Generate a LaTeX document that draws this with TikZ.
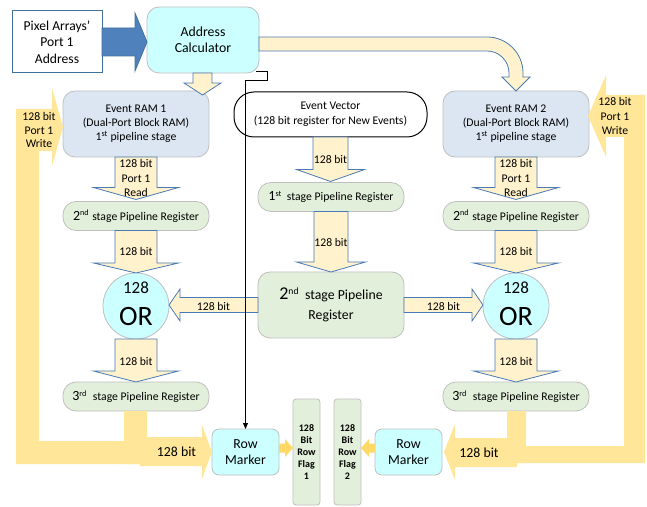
\documentclass[tikz,border=0pt]{standalone}
\usepackage{fontspec}
\setmainfont{Carlito}
\usetikzlibrary{calc,arrows.meta}

\definecolor{bandyellow}{HTML}{FFE699}
\definecolor{flagyellow}{HTML}{FFD966}
\definecolor{paleyellow}{HTML}{FFF2CC}
\definecolor{arrowblue}{HTML}{4A7AB5}
\definecolor{steel}{HTML}{4F81BD}
\definecolor{steeldark}{HTML}{41719C}
\definecolor{ramfill}{HTML}{DCE6F2}
\definecolor{cyanfill}{HTML}{CCFFFF}
\definecolor{greenfill}{HTML}{E2EFDA}
\definecolor{softgray}{HTML}{BFBFBF}

\newcommand\fsz[2]{\fontsize{#1}{#2}\selectfont}

% block arrows: style, start anchor, tip anchor, body half width, head half width, head length
\newcommand\blockdown[6]{%
  \path[#1] let \p1=#2, \p2=#3 in
    (\x1-#4,\y1) -- (\x1-#4,\y2+#6) -- (\x1-#5,\y2+#6) -- (\x1,\y2)
    -- (\x1+#5,\y2+#6) -- (\x1+#4,\y2+#6) -- (\x1+#4,\y1) -- cycle;}
\newcommand\blockleft[6]{%
  \path[#1] let \p1=#2, \p2=#3 in
    (\x1,\y1+#4) -- (\x2+#6,\y1+#4) -- (\x2+#6,\y1+#5) -- (\x2,\y1)
    -- (\x2+#6,\y1-#5) -- (\x2+#6,\y1-#4) -- (\x1,\y1-#4) -- cycle;}
\newcommand\blockright[6]{%
  \path[#1] let \p1=#2, \p2=#3 in
    (\x1,\y1+#4) -- (\x2-#6,\y1+#4) -- (\x2-#6,\y1+#5) -- (\x2,\y1)
    -- (\x2-#6,\y1-#5) -- (\x2-#6,\y1-#4) -- (\x1,\y1-#4) -- cycle;}

\begin{document}
\begin{tikzpicture}[x=1pt,y=1pt,
  every node/.style={inner sep=0pt, outer sep=0pt},
  pane/.style={draw=softgray, line width=0.8pt, align=center},
  ramnode/.style={pane, fill=ramfill, rounded corners=12pt,
    minimum width=146pt, minimum height=66pt, font=\fsz{11.7}{14}},
  pipe/.style={pane, fill=greenfill, rounded corners=13pt,
    minimum width=146pt, minimum height=29pt, font=\fsz{11.7}{14}},
  bigpipe/.style={pane, fill=greenfill, rounded corners=12pt,
    minimum width=146pt, minimum height=66pt, font=\fsz{13.8}{20}},
  calcnode/.style={pane, fill=cyanfill, rounded corners=12pt,
    minimum width=112pt, minimum height=66pt, font=\fsz{13.8}{16}},
  orcircle/.style={circle, draw=softgray, line width=0.8pt, fill=cyanfill, minimum size=66pt},
  marker/.style={pane, fill=cyanfill, rounded corners=7pt,
    minimum width=67pt, minimum height=46pt, font=\fsz{13.8}{15.5}},
  flag/.style={pane, fill=greenfill, rounded corners=3pt,
    minimum width=27pt, minimum height=106pt, font=\bfseries\fsz{10}{12}},
  sourcebox/.style={draw=steeldark, line width=1pt, fill=white, align=center,
    minimum width=90pt, minimum height=62pt, font=\fsz{13.6}{16.5}},
  vectorbox/.style={draw=black, line width=1pt, fill=white, align=center, rounded corners=20pt,
    minimum width=193pt, minimum height=45pt, font=\fsz{11.7}{14.5}},
  pipearrow/.style={fill=paleyellow, draw=arrowblue, line width=0.8pt, line join=miter},
  band/.style={fill=bandyellow},
  flagarrow/.style={fill=flagyellow},
  bluearrow/.style={fill=steel, draw=steeldark, line width=0.8pt, line join=miter},
  lbl/.style={font=\fsz{11.7}{14.5}, align=center},
  biglbl/.style={font=\fsz{13.8}{16}},
  wire/.style={draw=black, line width=0.8pt, -{Triangle[length=6pt,width=5pt]}}]

\useasboundingbox (0,0) rectangle (647,506);

% ---- blocks ----
\node[sourcebox] (pix) at (57,464) {Pixel Arrays’\\Port 1\\Address};
\node[calcnode] (addr) at (203,466) {Address\\Calculator};
\node[ramnode] (ram1) at (136,382) {Event RAM 1\\(Dual-Port Block RAM)\\1\textsuperscript{st} pipeline stage};
\node[vectorbox] (ev) at (330.5,391.5) {Event Vector\\(128 bit register for New Events)};
\node[ramnode] (ram2) at (516,382) {Event RAM 2\\(Dual-Port Block RAM)\\1\textsuperscript{st} pipeline stage};
\node[pipe] (reg1m) at (331,309) {{\fsz{14}{14}1}\textsuperscript{st}\hspace{5pt}stage Pipeline Register};
\node[pipe] (reg2a) at (136,290) {{\fsz{14}{14}2}\textsuperscript{nd}\hspace{3pt}stage Pipeline Register};
\node[pipe] (reg2b) at (516,290) {{\fsz{14}{14}2}\textsuperscript{nd}\hspace{3pt}stage Pipeline Register};
\node[bigpipe] (reg2m) at (331,201) {{\fsz{18}{20}2}\textsuperscript{nd}\hspace{6pt}stage Pipeline\\Register};
\node[orcircle] (ora) at (136,200) {};
\node[orcircle] (orb) at (516,200) {};
\node[font=\fsz{17}{17}] (ora-n) at (136,218) {128};
\node[font=\fsz{28}{28}] (ora-t) at (136,189) {OR};
\node[font=\fsz{17}{17}] (orb-n) at (516,218) {128};
\node[font=\fsz{28}{28}] (orb-t) at (516,189) {OR};
\node[pipe] (reg3a) at (136,109.5) {{\fsz{14}{14}3}\textsuperscript{rd}\hspace{6pt}stage Pipeline Register};
\node[pipe] (reg3b) at (516,109.5) {{\fsz{14}{14}3}\textsuperscript{rd}\hspace{6pt}stage Pipeline Register};
\node[marker] (rm1) at (245.5,54) {Row\\Marker};
\node[marker] (rm2) at (408.5,54) {Row\\Marker};
\node[flag] (fl1) at (306.5,54) {128\\Bit\\Row\\Flag\\1};
\node[flag] (fl2) at (347.5,54) {128\\Bit\\Row\\Flag\\2};

% ---- wide write-back bands ----
\path[band] let \p1=(reg3a.south), \p2=(rm1.west) in
  (\x1-12pt,\y1) -- (\x1+11pt,\y1) -- (\x1+11pt,\y2+15pt) -- (\x2-10pt,\y2+15pt)
  -- (\x2-10pt,\y2+27pt) -- (\x2,\y2) -- (\x2-10pt,\y2-27pt) -- (\x2-10pt,\y2-14pt)
  -- (\x1+4pt,\y2-14pt) -- (\x1+4pt,\y2-12pt) -- (\x1-12pt,\y2-12pt) -- cycle;
\path[band] let \p1=(ram1.west) in
  (16,42) -- (140,42) -- (140,65) -- (39,65) -- (39,355) -- (\x1-11pt,355)
  -- (\x1-11pt,340) -- (\x1,\y1-3pt) -- (\x1-11pt,418) -- (\x1-11pt,397) -- (16,397) -- cycle;
\path[band] let \p1=(reg3b.south), \p2=(rm2.east) in
  (\x1-9pt,\y1) -- (\x1+10pt,\y1) -- (\x1+10pt,43) -- (\x1+1pt,43) -- (\x1+1pt,\y2-15pt)
  -- (\x2+13pt,\y2-15pt) -- (\x2+13pt,\y2-28pt) -- (\x2+2pt,\y2) -- (\x2+13pt,\y2+28pt)
  -- (\x2+13pt,\y2+14pt) -- (\x1-9pt,\y2+14pt) -- cycle;
\path[band] let \p1=(ram2.east) in
  (517,43) -- (645,43) -- (645,411) -- (\x1+17pt,411) -- (\x1+17pt,431) -- (\x1-1pt,\y1+8pt)
  -- (\x1+17pt,349) -- (\x1+17pt,369) -- (624,369) -- (624,60) -- (517,60) -- cycle;

% ---- flag feeds ----
\path[flagarrow] let \p1=(rm1.east), \p2=(fl1.west) in
  (\x1,\y1+8.5pt) -- (\x2-8pt,\y1+8.5pt) -- (\x2-8pt,\y1+13pt) -- (\x2,\y1+4pt)
  -- (\x2-8pt,\y1-5pt) -- (\x2-8pt,\y1-0.5pt) -- (\x1,\y1-0.5pt) -- cycle;
\path[flagarrow] let \p1=(rm2.west), \p2=(fl2.east) in
  (\x1,\y1+8.5pt) -- (\x2+8pt,\y1+8.5pt) -- (\x2+8pt,\y1+13pt) -- (\x2,\y1+4pt)
  -- (\x2+8pt,\y1-5pt) -- (\x2+8pt,\y1-0.5pt) -- (\x1,\y1-0.5pt) -- cycle;

% ---- address input ----
\blockright{bluearrow}{(pix.east)}{(addr.west)}{14pt}{29pt}{12pt}

% ---- pipeline data arrows ----
\blockdown{pipearrow}{($(addr.south)+(-0.5,0)$)}{($(ram1.north)+(0,-4)$)}{9.5pt}{18.5pt}{12pt}
\path[pipearrow] let \p1=(addr.east), \p2=(ram2.north) in
  (\x1,\y2+54pt) -- (\x2-29pt,\y2+54pt)
  .. controls (\x2-9.1pt,\y2+54pt) and (\x2+7pt,\y2+37.9pt) .. (\x2+7pt,\y2+18pt)
  -- (\x2+7pt,\y2+14pt) -- (\x2+14pt,\y2+14pt) -- (\x2,\y2) -- (\x2-14pt,\y2+14pt)
  -- (\x2-7pt,\y2+14pt) -- (\x2-7pt,\y2+18pt)
  .. controls (\x2-7pt,\y2+30.15pt) and (\x2-16.85pt,\y2+40pt) .. (\x2-29pt,\y2+40pt)
  -- (\x1,\y2+40pt) -- cycle;

\blockdown{pipearrow}{(ram1.south)}{($(reg2a.north)+(0,2)$)}{21pt}{42.5pt}{12pt}
\blockdown{pipearrow}{(reg2a.south)}{(ora.north)}{21pt}{42.5pt}{10pt}
\blockdown{pipearrow}{(ora.south)}{(reg3a.north)}{21pt}{42.5pt}{11pt}
\blockdown{pipearrow}{(ram2.south)}{($(reg2b.north)+(0,2)$)}{21pt}{42.5pt}{12pt}
\blockdown{pipearrow}{(reg2b.south)}{(orb.north)}{21pt}{42.5pt}{10pt}
\blockdown{pipearrow}{(orb.south)}{(reg3b.north)}{21pt}{42.5pt}{11pt}
\blockdown{pipearrow}{(ev.south)}{($(reg1m.north)+(0,1)$)}{17.5pt}{34pt}{12pt}
\blockdown{pipearrow}{(reg1m.south)}{(reg2m.north)}{17pt}{34.5pt}{10pt}
\blockleft{pipearrow}{(reg2m.west)}{(ora.east)}{7.5pt}{16pt}{11pt}
\blockright{pipearrow}{(reg2m.east)}{(orb.west)}{7.5pt}{16pt}{11pt}

% ---- arrow labels ----
\node[lbl] (lr1) at (136,328) {128 bit\\Port 1\\Read};
\node[lbl] (lr2) at (516,328) {128 bit\\Port 1\\Read};
\node[lbl] (l2a) at (136,255) {128 bit};
\node[lbl] (l2b) at (516,255) {128 bit};
\node[lbl] (l3a) at (136,145) {128 bit};
\node[lbl] (l3b) at (516,145) {128 bit};
\node[lbl] (lev) at (330.5,347) {128 bit};
\node[lbl] (lmid) at (331,264) {128 bit};
\node[lbl] (lh1) at (213.5,200) {128 bit};
\node[lbl] (lh2) at (443.5,200) {128 bit};
\node[biglbl] (lb1) at (176.5,54) {128 bit};
\node[biglbl] (lb2) at (479,53) {128 bit};
\node[lbl, font=\fsz{11.7}{13.5}] (lw1) at (39,376) {128 bit\\Port 1\\Write};
\node[lbl] (lw2) at (615,390) {128 bit\\Port 1\\Write};

% ---- row address strobe ----
\draw[wire] ($(addr.south east)+(-3,2)$) -- ++(11,0) -- ++(0,-9) -| (rm1.north);

\end{tikzpicture}
\end{document}
